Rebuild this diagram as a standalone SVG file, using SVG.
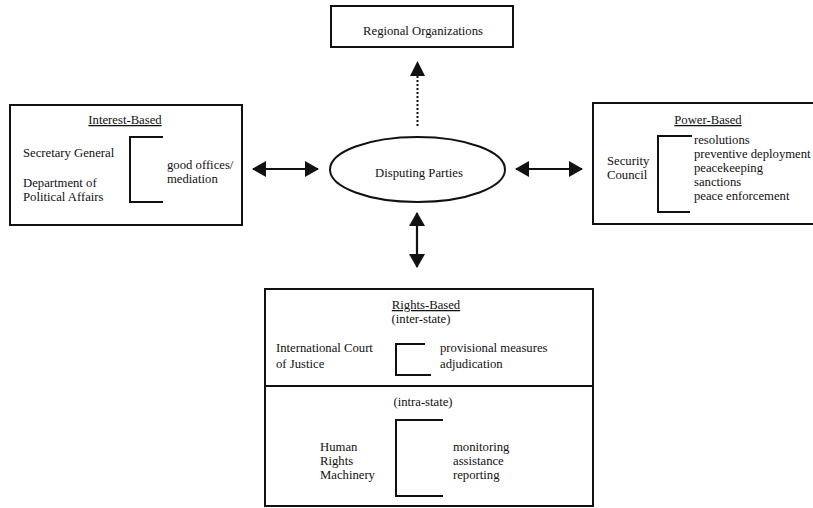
<svg xmlns="http://www.w3.org/2000/svg" width="813" height="508" viewBox="0 0 813 508">
<defs>
<style>
text{font-family:"Liberation Serif","Times New Roman",serif;font-size:12.7px;fill:#111}
.box{fill:none;stroke:#111;stroke-width:2}
.br{fill:none;stroke:#111;stroke-width:2}
.c{text-anchor:middle}
.u{text-decoration:underline}
.ln{stroke:#111;stroke-width:2.2;fill:none}
</style>
<marker id="ah" viewBox="0 0 14 16" refX="13" refY="8" markerWidth="14" markerHeight="16" markerUnits="userSpaceOnUse" orient="auto-start-reverse">
<path d="M0,0 L14,8 L0,16 Z" fill="#111"/>
</marker>
</defs>
<rect width="813" height="508" fill="#fff"/>
<g id="regional">
<rect class="box" x="331" y="6" width="182" height="41"/>
<text class="c" x="423" y="35">Regional Organizations</text>
</g>
<g id="interest">
<rect class="box" x="10" y="105" width="232" height="120"/>
<text class="c u" x="125" y="124">Interest-Based</text>
<text x="23" y="157">Secretary General</text>
<text x="23" y="187">Department of</text>
<text x="23" y="201">Political Affairs</text>
<path class="br" d="M163,137 H130 V202 H163"/>
<text x="167" y="169">good offices/</text>
<text x="167" y="183">mediation</text>
</g>
<g id="disputing">
<ellipse cx="417.5" cy="169.5" rx="87.5" ry="32.5" fill="none" stroke="#111" stroke-width="2"/>
<text class="c" x="419" y="177">Disputing Parties</text>
</g>
<g id="power">
<rect class="box" x="593" y="103" width="222" height="121"/>
<text class="c u" x="708" y="124">Power-Based</text>
<text x="607" y="165">Security</text>
<text x="607" y="179">Council</text>
<path class="br" d="M692,136 H658 V212 H690"/>
<text x="694" y="144">resolutions</text>
<text x="694" y="158">preventive deployment</text>
<text x="694" y="172">peacekeeping</text>
<text x="694" y="186">sanctions</text>
<text x="694" y="200">peace enforcement</text>
</g>
<g id="rights">
<rect class="box" x="265" y="289" width="328" height="217"/>
<line class="box" x1="265" y1="386" x2="593" y2="386"/>
<text class="c u" x="426" y="309">Rights-Based</text>
<text class="c" x="421" y="323">(inter-state)</text>
<text x="276" y="352">International Court</text>
<text x="276" y="368">of Justice</text>
<path class="br" d="M425,344 H396 V375 H431"/>
<text x="440" y="352">provisional measures</text>
<text x="440" y="368">adjudication</text>
<text class="c" x="423" y="406">(intra-state)</text>
<path class="br" d="M443,420 H396 V496 H443"/>
<text x="320" y="451">Human</text>
<text x="320" y="465">Rights</text>
<text x="320" y="479">Machinery</text>
<text x="453" y="451">monitoring</text>
<text x="453" y="465">assistance</text>
<text x="453" y="479">reporting</text>
</g>
<g id="connectors">
<line class="ln" x1="253" y1="169" x2="318" y2="169" marker-start="url(#ah)" marker-end="url(#ah)"/>
<line class="ln" x1="516" y1="169" x2="582" y2="169" marker-start="url(#ah)" marker-end="url(#ah)"/>
<line class="ln" x1="417" y1="213" x2="417" y2="267" marker-start="url(#ah)" marker-end="url(#ah)"/>
<line x1="417.5" y1="126" x2="417.5" y2="74" stroke="#111" stroke-width="2" stroke-dasharray="2,2"/>
<path d="M417.5,61 L425,76 L410,76 Z" fill="#111"/>
</g>
</svg>
